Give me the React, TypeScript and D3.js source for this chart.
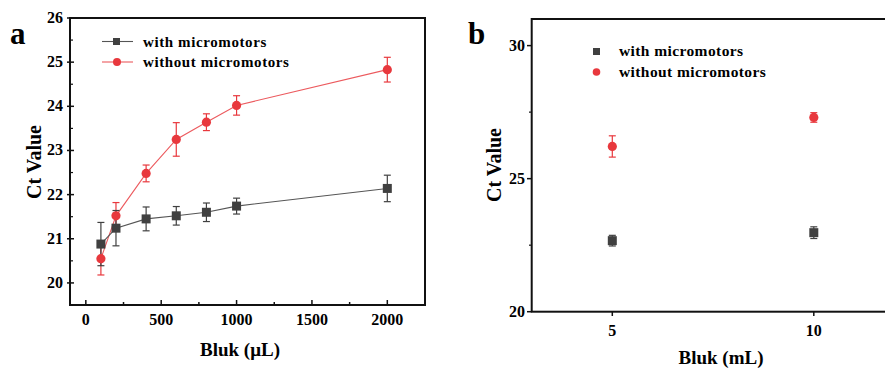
import React from 'react';
import * as d3 from 'd3';

// panel a
const volA = [100, 200, 400, 600, 800, 1000, 2000];
const withA = [20.88, 21.24, 21.45, 21.52, 21.6, 21.74, 22.14];
const withAErr = [0.49, 0.4, 0.27, 0.21, 0.21, 0.18, 0.3];
const withoutA = [20.55, 21.52, 22.48, 23.25, 23.64, 24.02, 24.83];
const withoutAErr = [0.37, 0.3, 0.19, 0.38, 0.19, 0.22, 0.28];
const ticksXA = [0, 500, 1000, 1500, 2000];
const ticksYA = [20, 21, 22, 23, 24, 25, 26];

// panel b
const volB = [5, 10];
const withB = [22.67, 22.97];
const withBErr = [0.2, 0.22];
const withoutB = [26.21, 27.3];
const withoutBErr = [0.4, 0.18];
const ticksXB = [5, 10];
const ticksYB = [20, 25, 30];

const RED = '#e8383d';
const RED_LINE = '#ec5a5e';
const DARK = '#404040';
const DARK_LINE = '#555';
const FONT = '"Liberation Serif", "Times New Roman", serif';

function Square({ x, y, c }: { x: number; y: number; c: string }) {
  return <rect x={x - 4.5} y={y - 4.5} width={9} height={9} fill={c} />;
}
function Dot({ x, y, c }: { x: number; y: number; c: string }) {
  return <circle cx={x} cy={y} r={4.6} fill={c} />;
}

function ErrBar({ x, y0, y1, c }: { x: number; y0: number; y1: number; c: string }) {
  return (
    <g stroke={c} strokeWidth={1.2}>
      <line x1={x} x2={x} y1={y0} y2={y1} />
      <line x1={x - 3.5} x2={x + 3.5} y1={y0} y2={y0} />
      <line x1={x - 3.5} x2={x + 3.5} y1={y1} y2={y1} />
    </g>
  );
}

function PanelA() {
  const x = d3.scaleLinear().domain([-105, 2250]).range([70, 425]);
  const y = d3.scaleLinear().domain([19.5, 26]).range([305, 18]);
  const line = d3.line<number>().x((d, i) => x(volA[i])).y(d => y(d));
  const minorX = d3.range(250, 2250, 500);
  const minorY = d3.range(19.5, 26, 1);
  return (
    <g>
      <text x={10} y={44} fontSize={31} fontWeight="bold" fontFamily={FONT}>a</text>
      <rect x={70} y={18} width={355} height={287} fill="none" stroke="#111" strokeWidth={2} />
      {ticksXA.map(t => (
        <g key={t}>
          <line x1={x(t)} x2={x(t)} y1={305} y2={300} stroke="#111" strokeWidth={1.5} />
          <text x={x(t)} y={325} textAnchor="middle" fontSize={16} fontWeight="bold" fontFamily={FONT}>{t}</text>
        </g>
      ))}
      {minorX.map(t => (
        <line key={t} x1={x(t)} x2={x(t)} y1={305} y2={302} stroke="#111" strokeWidth={1.5} />
      ))}
      {ticksYA.map(t => (
        <g key={t}>
          <line x1={67} x2={74} y1={y(t)} y2={y(t)} stroke="#111" strokeWidth={1.5} />
          <text x={63} y={y(t) + 5} textAnchor="end" fontSize={16} fontWeight="bold" fontFamily={FONT}>{t}</text>
        </g>
      ))}
      {minorY.map(t => (
        <line key={t} x1={70} x2={73} y1={y(t)} y2={y(t)} stroke="#111" strokeWidth={1.2} />
      ))}
      <text transform={`translate(41,162) rotate(-90)`} textAnchor="middle" fontSize={20} fontWeight="bold" fontFamily={FONT}>Ct Value</text>
      <text x={240} y={356} textAnchor="middle" fontSize={19} fontWeight="bold" fontFamily={FONT}>Bluk (μL)</text>

      <path d={line(withoutA) || ''} fill="none" stroke={RED_LINE} strokeWidth={1.1} />
      {withoutA.map((v, i) => (
        <g key={i}>
          <ErrBar x={x(volA[i])} y0={y(v - withoutAErr[i])} y1={y(v + withoutAErr[i])} c={RED} />
        </g>
      ))}
      <path d={line(withA) || ''} fill="none" stroke={DARK_LINE} strokeWidth={1.1} />
      {withA.map((v, i) => (
        <g key={i}>
          <ErrBar x={x(volA[i])} y0={y(v - withAErr[i])} y1={y(v + withAErr[i])} c={DARK} />
          <Square x={x(volA[i])} y={y(v)} c={DARK} />
        </g>
      ))}
      {withoutA.map((v, i) => (
        <Dot key={i} x={x(volA[i])} y={y(v)} c={RED} />
      ))}

      <line x1={102} x2={133} y1={41.5} y2={41.5} stroke={DARK_LINE} strokeWidth={1.1} />
      <rect x={113} y={38} width={7} height={7} fill={DARK} />
      <text x={143} y={46.5} fontSize={15} fontWeight="bold" fontFamily={FONT} letterSpacing={0.6}>with micromotors</text>
      <line x1={102} x2={133} y1={62} y2={62} stroke={RED_LINE} strokeWidth={1.1} />
      <circle cx={117} cy={62} r={4} fill={RED} />
      <text x={143} y={67} fontSize={15} fontWeight="bold" fontFamily={FONT} letterSpacing={0.6}>without micromotors</text>
    </g>
  );
}

function PanelB() {
  const x = d3.scaleLinear().domain([3, 12]).range([531.7, 894.4]);
  const y = d3.scaleLinear().domain([20, 31]).range([311.7, 19]);
  const minorY = [22.5, 27.5];
  return (
    <g>
      <text x={468} y={44} fontSize={31} fontWeight="bold" fontFamily={FONT}>b</text>
      <rect x={531.7} y={19} width={400} height={292.7} fill="none" stroke="#111" strokeWidth={2} />
      {ticksXB.map(t => (
        <g key={t}>
          <line x1={x(t)} x2={x(t)} y1={311.7} y2={316} stroke="#111" strokeWidth={1.5} />
          <text x={x(t)} y={336} textAnchor="middle" fontSize={16} fontWeight="bold" fontFamily={FONT}>{t}</text>
        </g>
      ))}
      {ticksYB.map(t => (
        <g key={t}>
          <line x1={527} x2={531.7} y1={y(t)} y2={y(t)} stroke="#111" strokeWidth={1.5} />
          <text x={525} y={y(t) + 5} textAnchor="end" fontSize={16} fontWeight="bold" fontFamily={FONT}>{t}</text>
        </g>
      ))}
      {minorY.map(t => (
        <line key={t} x1={529} x2={531.7} y1={y(t)} y2={y(t)} stroke="#111" strokeWidth={1.2} />
      ))}
      <text transform={`translate(501,165) rotate(-90)`} textAnchor="middle" fontSize={20} fontWeight="bold" fontFamily={FONT}>Ct Value</text>
      <text x={721} y={364} textAnchor="middle" fontSize={19} fontWeight="bold" fontFamily={FONT}>Bluk (mL)</text>

      {withB.map((v, i) => (
        <g key={i}>
          <ErrBar x={x(volB[i])} y0={y(v - withBErr[i])} y1={y(v + withBErr[i])} c={DARK} />
          <Square x={x(volB[i])} y={y(v)} c={DARK} />
        </g>
      ))}
      {withoutB.map((v, i) => (
        <g key={i}>
          <ErrBar x={x(volB[i])} y0={y(v - withoutBErr[i])} y1={y(v + withoutBErr[i])} c={RED} />
          <Dot x={x(volB[i])} y={y(v)} c={RED} />
        </g>
      ))}

      <rect x={593} y={48} width={7} height={7} fill={DARK} />
      <text x={619} y={56} fontSize={15.5} fontWeight="bold" fontFamily={FONT} letterSpacing={0.4}>with micromotors</text>
      <circle cx={596.5} cy={72} r={3.8} fill={RED} />
      <text x={619} y={77} fontSize={15.5} fontWeight="bold" fontFamily={FONT} letterSpacing={0.4}>without micromotors</text>
    </g>
  );
}

export default function App() {
  return (
    <svg width={885} height={369} style={{ position: 'absolute', left: 0, top: 0, background: '#fff' }}>
      <PanelA />
      <PanelB />
    </svg>
  );
}
